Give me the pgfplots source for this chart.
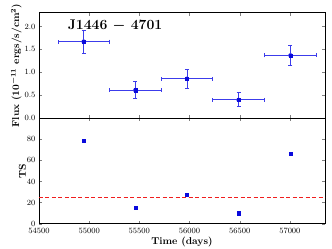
\documentclass[border=0pt]{standalone}
\usepackage{pgfplots}
\pgfplotsset{compat=1.18}
\definecolor{tsred}{RGB}{240,30,30}
\definecolor{mblue}{RGB}{10,10,220}
\definecolor{ebblue}{RGB}{60,60,235}
\begin{document}
\begin{tikzpicture}
\pgfplotsset{
  myax/.style={
    scale only axis, width=286pt, height=105.5pt,
    xmin=54500, xmax=57350,
    tick align=inside, tick pos=both,
    tick label style={font=\fontsize{8.3}{10}\selectfont},
    label style={font=\bfseries\boldmath\fontsize{10}{12}\selectfont},
    xtick={54500,55000,55500,56000,56500,57000},
    scaled x ticks=false,
    x tick label style={/pgf/number format/set thousands separator={}},
    major tick length=3pt,
    axis line style={line width=0.6pt},
  }
}
% bottom axis
\begin{axis}[myax, name=ts, at={(0,0)}, anchor=south west,
  ymin=0, ymax=100, ytick={0,20,40,60,80},
  xlabel={Time (days)}, ylabel={TS},
  xlabel style={yshift=3pt},
  x tick label style={yshift=-1pt},
  ylabel style={yshift=-6pt},
]
\addplot[only marks, mark=square*, mark size=1.6pt, color=mblue, fill=mblue] coordinates {
(54945,79) (55460,15) (55974,27.5) (56489,10) (57006,66.5)};
\draw[draw=tsred, line width=1.3pt, dash pattern=on 4pt off 2.5pt] (axis cs:54500,25) -- (axis cs:57350,25);
\end{axis}
% top axis
\begin{axis}[myax, at={(0,105.5pt)}, anchor=south west,
  ymin=0, ymax=2.3, ytick={0,0.5,1,1.5,2},
  xticklabels={},
  yticklabel style={/pgf/number format/.cd, fixed, fixed zerofill, precision=1},
  ylabel={Flux ($10^{-11}$ ergs/s/cm$^2$)},
  ylabel style={yshift=-4pt},
]
\addplot[ebblue, only marks, mark=none,
  error bars/.cd, x dir=both, x explicit, y dir=both, y explicit,
  error bar style={ebblue, line width=0.8pt}, error mark options={ebblue, rotate=90, mark size=2pt, line width=0.6pt}]
  table[x=x, y=y, x error=dx, y error plus=ep, y error minus=em] {
x dx y ep em
54945 257 1.67 0.25 0.25
55460 258 0.61 0.19 0.18
55974 257 0.86 0.21 0.21
56489 258 0.40 0.16 0.14
57006 258 1.37 0.21 0.22
};
\addplot[only marks, mark=square*, mark size=1.6pt, color=mblue, fill=mblue]
  table[x=x, y=y] {
x y
54945 1.67
55460 0.61
55974 0.86
56489 0.40
57006 1.37
};
\node[font=\bfseries\boldmath\fontsize{14}{16}\selectfont] at (rel axis cs:0.266,0.88) {J1446 $-$ 4701};
\end{axis}
\pgfresetboundingbox
\useasboundingbox (-39pt,-25.3pt) rectangle (293pt,223.7pt);
\end{tikzpicture}
\end{document}
